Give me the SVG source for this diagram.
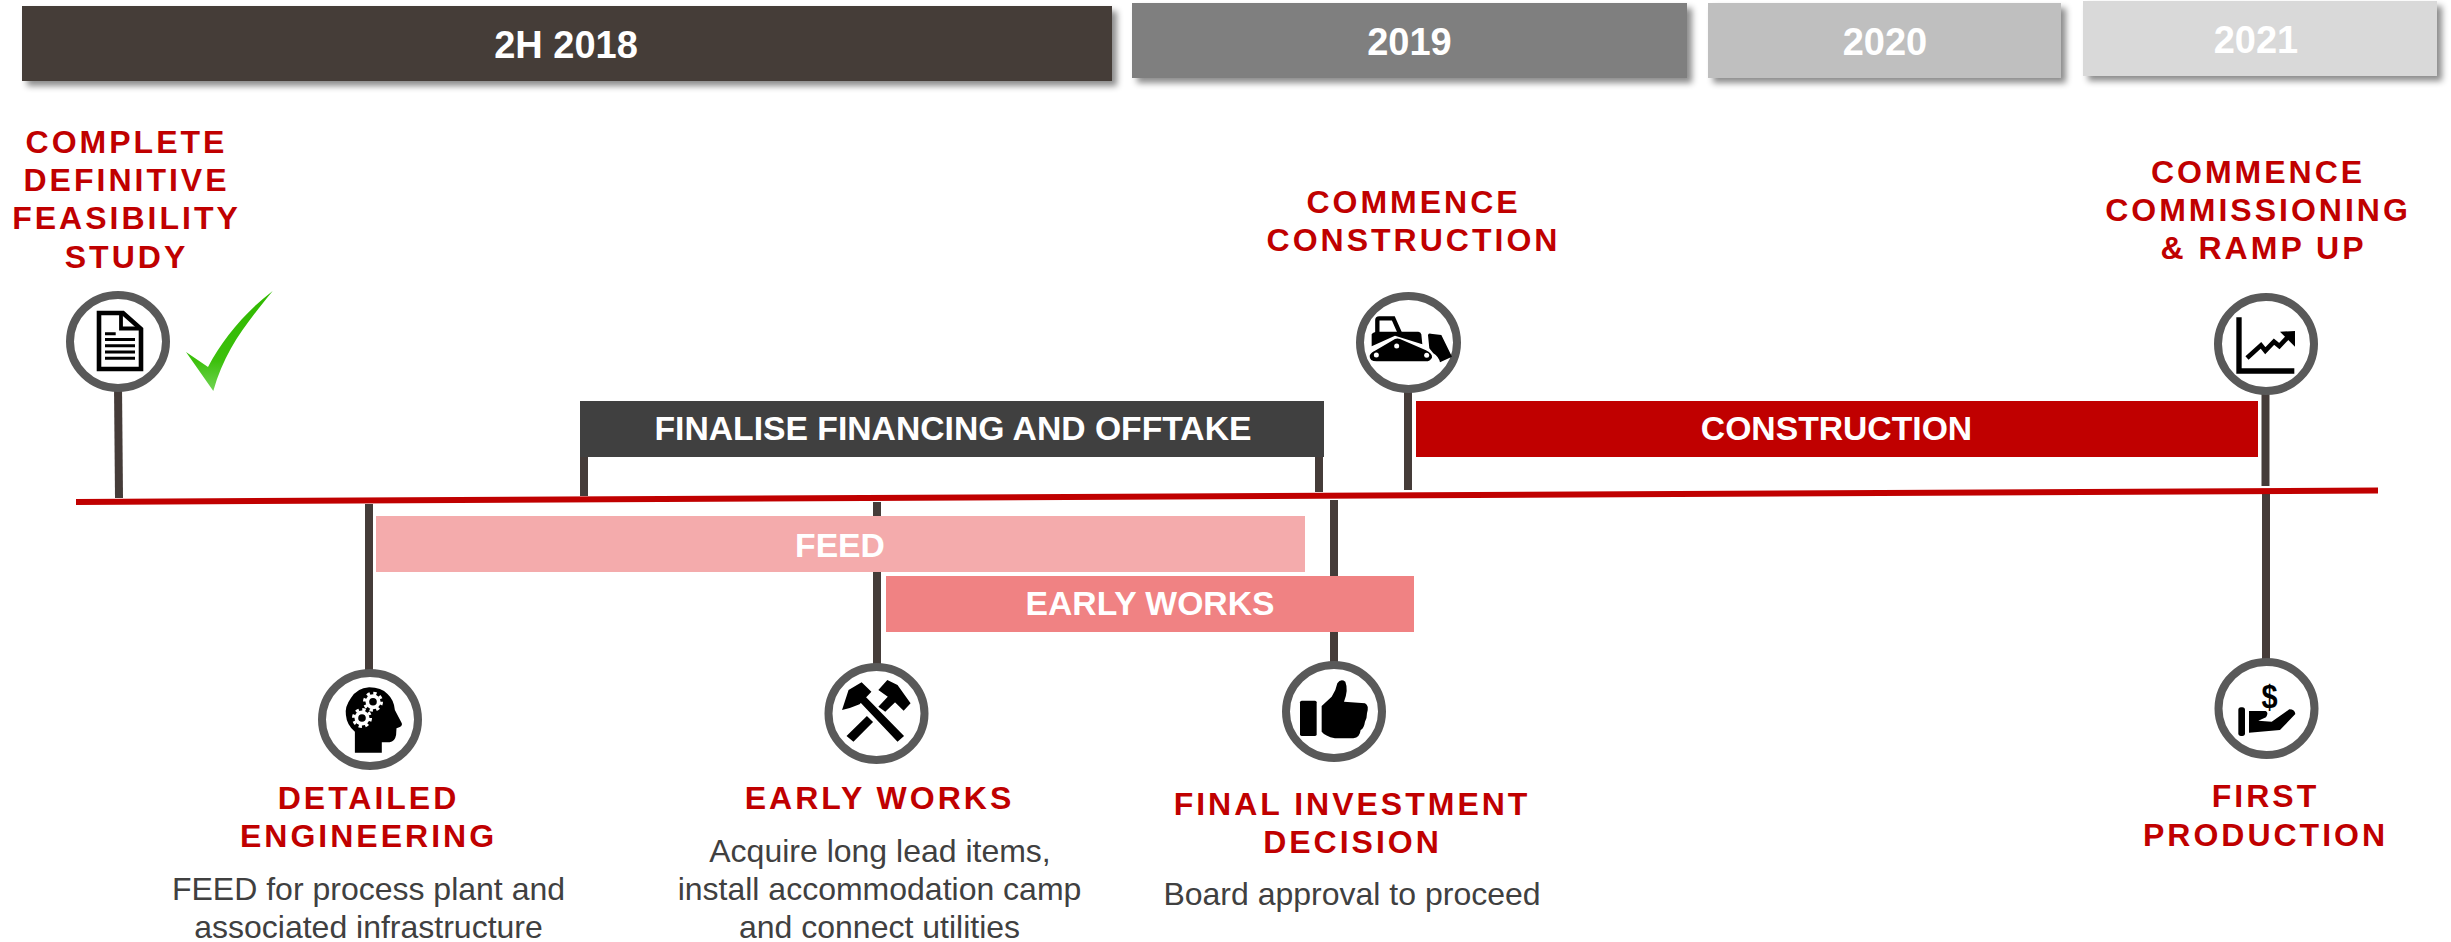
<svg xmlns="http://www.w3.org/2000/svg" width="2451" height="942" viewBox="0 0 2451 942">
<style>
text{font-family:"Liberation Sans",Arial,sans-serif;text-anchor:middle}
.yr{font-size:38px;font-weight:700;fill:#fff}
.bar{font-size:33.700px;font-weight:700;fill:#fff}
.lab{font-size:32px;font-weight:700;fill:#c00000;letter-spacing:3px}
.desc{font-size:32px;fill:#404040}
.ring{fill:#fff;stroke:#595959;stroke-width:8}
.stem{stroke:#453c39;stroke-width:8;fill:none}
.blk{fill:#000}
</style>
<defs>
<filter id="sh" x="-5%" y="-20%" width="110%" height="150%"><feDropShadow dx="5" dy="5" stdDeviation="3" flood-color="#000" flood-opacity=".45"/></filter>
<linearGradient id="gr" x1="0" y1="0" x2="0" y2="1"><stop offset="0" stop-color="#2fb900"/><stop offset=".7" stop-color="#3cc00c"/><stop offset="1" stop-color="#72d455"/></linearGradient>
</defs>
<rect width="2451" height="942" fill="#fff"/>

<g id="year-2h2018"><rect x="22" y="6" width="1090" height="75" fill="#453c39" filter="url(#sh)"/><text class="yr" x="566" y="58">2H 2018</text></g>
<g id="year-2019"><rect x="1132" y="3" width="555" height="75" fill="#7f7f7f" filter="url(#sh)"/><text class="yr" x="1409.500" y="55">2019</text></g>
<g id="year-2020"><rect x="1708" y="3" width="353" height="75" fill="#bfbfbf" filter="url(#sh)"/><text class="yr" x="1885" y="55">2020</text></g>
<g id="year-2021"><rect x="2083" y="1" width="354" height="75" fill="#d9d9d9" filter="url(#sh)"/><text class="yr" x="2256" y="52.500">2021</text></g>

<g id="connectors">
<path class="stem" d="M118 386L119 498"/>
<path class="stem" d="M369 504V672"/>
<path class="stem" d="M584 457V496"/>
<path class="stem" d="M1319 457V492"/>
<path class="stem" d="M877 502V667"/>
<path class="stem" d="M1334 500V665"/>
<path class="stem" d="M1408 388V490"/>
<path class="stem" d="M2265.500 390V486"/>
<path class="stem" d="M2266 493V660"/>
<path d="M76 502L2378 490.500" stroke="#c00000" stroke-width="6" fill="none"/>
</g>

<g id="bar-financing"><rect x="580" y="401" width="744" height="56" fill="#404040"/><text class="bar" x="953" y="440">FINALISE FINANCING AND OFFTAKE</text></g>
<g id="bar-construction"><rect x="1416" y="401" width="842" height="56" fill="#c00000"/><text class="bar" x="1836.500" y="440">CONSTRUCTION</text></g>
<g id="bar-feed"><rect x="376" y="516" width="929" height="56" fill="#f4abac"/><text class="bar" x="840" y="557">FEED</text></g>
<g id="bar-early-works"><rect x="886" y="576" width="528" height="56" fill="#f08283"/><text class="bar" x="1150" y="615">EARLY WORKS</text></g>

<g id="node-dfs">
<text class="lab" x="126.500" y="153">COMPLETE</text><text class="lab" x="126.500" y="191">DEFINITIVE</text><text class="lab" x="126.500" y="229">FEASIBILITY</text><text class="lab" x="126.500" y="268">STUDY</text>
<ellipse class="ring" cx="118" cy="341.500" rx="48" ry="46.500"/>
<path d="M99 313H123L141 329V369H99Z" fill="#fff" stroke="#000" stroke-width="4.600"/>
<path d="M121 312V328.500H141" fill="none" stroke="#000" stroke-width="3.800"/>
<path d="M105 333.700H115.700M105 339.500H135M105 345.700H135M105 352H135M105 358.300H135" stroke="#000" stroke-width="3" fill="none"/>
<path d="M272.700 291C245 312 222 340 208 367L186 352L213.300 391C225 350 245 325 272.700 291Z" fill="url(#gr)"/>
</g>

<g id="node-commence-construction">
<text class="lab" x="1413.500" y="213">COMMENCE</text><text class="lab" x="1413.500" y="251">CONSTRUCTION</text>
<ellipse class="ring" cx="1408.500" cy="342.500" rx="48.500" ry="46.500"/>
<g transform="translate(1340 285) scale(.3333)">
<path d="M112 145V105Q112 100 118 100H160L180 145" fill="none" stroke="#000" stroke-width="13"/>
<path d="M95 148Q100 140 112 140H235Q242 140 244 148L247 178L165 152L95 184Z" class="blk"/>
<path d="M105 197L165 162Q172 159 180 162L258 196Q278 206 276 218Q270 229 258 229H110Q88 229 89 212Q92 203 105 197Z" class="blk"/>
<circle cx="109" cy="210" r="7.500" fill="#fff"/><circle cx="170" cy="183" r="7.500" fill="#fff"/><circle cx="260" cy="211" r="7.500" fill="#fff"/>
<path d="M264 150Q266 145 272 146L304 150L336 215L300 232Q296 215 280 205L268 190Z" class="blk"/>
</g>
</g>

<g id="node-commissioning">
<text class="lab" x="2258" y="183">COMMENCE</text><text class="lab" x="2258" y="221">COMMISSIONING</text><text class="lab" x="2263.500" y="259">&amp; RAMP UP</text>
<ellipse class="ring" cx="2266" cy="344" rx="48" ry="47"/>
<g transform="translate(2200 285) scale(.3333)">
<path d="M117 97V258H283" fill="none" stroke="#000" stroke-width="16"/>
<path d="M141 219L183 181L196 197L222 170L238 183L262 158" fill="none" stroke="#000" stroke-width="14"/>
<path d="M240 140L285 138V185Z" class="blk"/>
</g>
</g>

<g id="node-detailed-engineering">
<ellipse class="ring" cx="370" cy="719.500" rx="48" ry="46.500"/>
<path transform="translate(310 660) scale(.408 .3333)" class="blk" d="M110 278H176V247H195Q208 245 211 225L212 205Q228 200 225 190L208 150Q206 120 190 102Q175 82 145 82Q115 84 100 115Q85 140 88 165Q90 195 110 215Z"/>
<circle cx="373" cy="701.700" r="7.500" fill="#fff"/><circle cx="373" cy="701.700" r="8.500" fill="none" stroke="#fff" stroke-width="3" stroke-dasharray="3.300 3.380"/><circle cx="373" cy="701.700" r="3.800" class="blk"/>
<circle cx="362" cy="718" r="7.500" fill="#fff"/><circle cx="362" cy="718" r="8.500" fill="none" stroke="#fff" stroke-width="3" stroke-dasharray="3.300 3.380"/><circle cx="362" cy="718" r="3.800" class="blk"/>
<text class="lab" x="368.500" y="809">DETAILED</text><text class="lab" x="368.500" y="847">ENGINEERING</text>
<text class="desc" x="368.500" y="900">FEED for process plant and</text><text class="desc" x="368.500" y="938">associated infrastructure</text>
</g>

<g id="node-early-works">
<ellipse class="ring" cx="876.500" cy="713.500" rx="48" ry="46.500"/>
<path transform="translate(310 660) scale(.408 .3333)" class="blk" d="M1345 122L1360 108L1456 228L1440 245ZM1315 228L1365 168L1380 186L1332 245ZM1393 140L1420 105L1438 122L1410 155ZM1304 150L1320 90L1352 67L1376 95L1347 133Q1325 145 1304 150ZM1393 90L1415 60L1440 75L1472 130L1455 152L1430 122Z"/>
<text class="lab" x="879.500" y="809">EARLY WORKS</text>
<text class="desc" x="880" y="862">Acquire long lead items,</text><text class="desc" x="879.500" y="900">install accommodation camp</text><text class="desc" x="879.500" y="938">and connect utilities</text>
</g>

<g id="node-fid">
<ellipse class="ring" cx="1334" cy="711.500" rx="48" ry="46.500"/>
<g transform="translate(1270 650) scale(.3333)">
<rect x="90" y="152" width="50" height="106" rx="5" class="blk"/>
<path class="blk" d="M155 168L185 140Q198 122 202 100Q212 85 226 95Q236 120 222 155L285 160Q298 166 291 190Q291 205 285 215Q282 235 272 240Q270 262 250 265H195Q165 258 155 245Z"/>
</g>
<text class="lab" x="1352" y="815">FINAL INVESTMENT</text><text class="lab" x="1352.500" y="853">DECISION</text>
<text class="desc" x="1352" y="905">Board approval to proceed</text>
</g>

<g id="node-first-production">
<ellipse class="ring" cx="2266.500" cy="708.500" rx="48" ry="46.500"/>
<g transform="translate(2200 650) scale(.3333)">
<rect x="115" y="172" width="20" height="86" rx="8" class="blk"/>
<path class="blk" d="M147 183H197Q207 188 198 202L175 212L215 215L268 178Q285 178 286 192L240 240L147 248Z"/>
</g>
<text transform="translate(2269.500 707.500) scale(.85 1)" font-size="34" font-weight="700" fill="#000">$</text>
<text class="lab" x="2265.500" y="807">FIRST</text><text class="lab" x="2265.500" y="846">PRODUCTION</text>
</g>
</svg>
